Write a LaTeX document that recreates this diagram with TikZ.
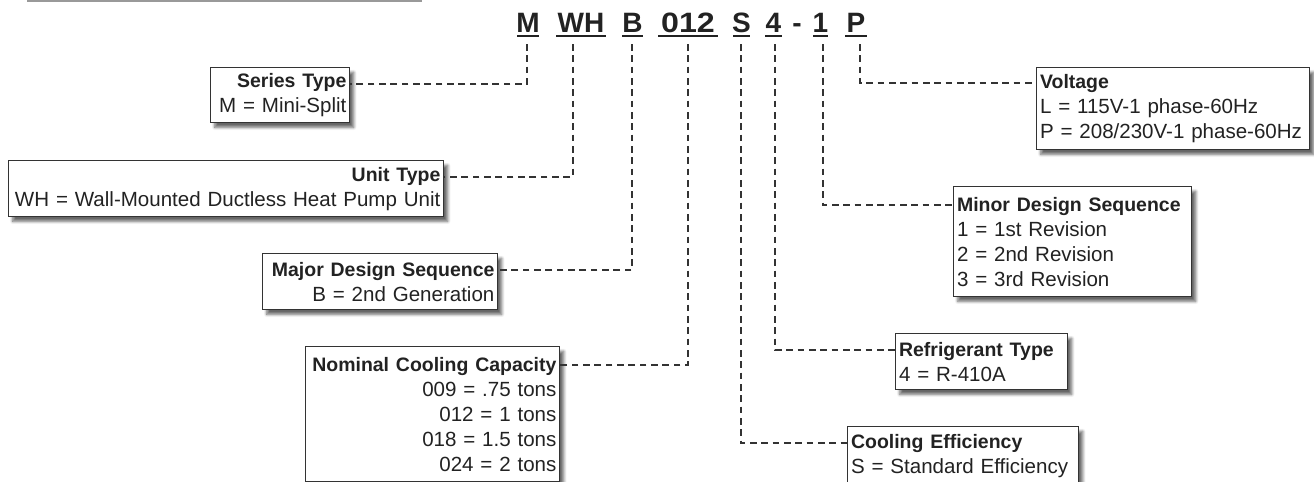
\documentclass[tikz,border=0pt]{standalone}
\usepackage{fontspec}
\setmainfont{Liberation Sans}
\usetikzlibrary{shadows.blur}
\definecolor{ink}{HTML}{222222}
\definecolor{linec}{HTML}{333333}
\newcommand{\ttl}[1]{{\fontsize{14.6pt}{18.75pt}\selectfont\bfseries #1}}
\begin{document}
\begin{tikzpicture}[x=0.75pt,y=-0.75pt,
  box/.style={draw=linec, line width=1.1pt, fill=white, anchor=north west, inner sep=2.5pt,
    font=\fontsize{15.4pt}{18.75pt}\selectfont, text=ink,
    blur shadow={shadow xshift=3pt, shadow yshift=-3.5pt, shadow blur steps=6, shadow opacity=60}},
  conn/.style={draw=linec, line width=1.5pt, dash pattern=on 5pt off 3.5pt},
  code/.style={font=\fontsize{21pt}{24pt}\bfseries\selectfont, text=ink, anchor=base, inner sep=0pt},
  ul/.style={draw=ink, line width=1.9pt}]
\useasboundingbox (0,0) rectangle (1314,482);
\draw[gray!80, line width=1.2pt] (27,0.8) -- (422,0.8);

% code
\node[code] (M) at (528,32) {M};
\node[code] (WH) at (581,32) {WH};
\node[code] (B) at (632.5,32) {B};
\node[code] (C012) at (688,32) {\scalebox{1.15}[1]{012}};
\node[code] (S) at (741.5,32) {S};
\node[code] (F) at (773.5,32) {4};
\node[code] (D) at (797,32) {-};
\node[code] (O) at (820.5,32) {1};
\node[code] (P) at (856,32) {P};
\draw[ul] (517,36) -- (539,36);
\draw[ul] (556,36) -- (606,36);
\draw[ul] (622,36) -- (643,36);
\draw[ul] (658,36) -- (718,36);
\draw[ul] (733,36) -- (750,36);
\draw[ul] (765,36) -- (782,36);
\draw[ul] (813,36) -- (828,36);
\draw[ul] (845,36) -- (867,36);

\coordinate (tM) at (527,44);
\coordinate (tWH) at (573,44);
\coordinate (tB) at (632,44);
\coordinate (t012) at (688,44);
\coordinate (tS) at (741,44);
\coordinate (t4) at (775,44);
\coordinate (t1) at (823,44);
\coordinate (tP) at (860,44);

% boxes
\node[box, minimum width=104.25pt, minimum height=41.25pt, text width=99.25pt, align=right] (series) at (210,67)
  {\ttl{Series Type}\\M = Mini-Split};
\node[box, minimum width=326.25pt, minimum height=42pt, text width=321.25pt, align=right] (unit) at (8,160)
  {\ttl{Unit Type}\\WH = Wall-Mounted Ductless Heat Pump Unit};
\node[box, minimum width=176.25pt, minimum height=42pt, text width=171.25pt, align=right] (major) at (262,253)
  {\ttl{Major Design Sequence}\\B = 2nd Generation};
\node[box, minimum width=190.5pt, minimum height=101.25pt, text width=185.5pt, align=right] (nominal) at (305,346)
  {\ttl{Nominal Cooling Capacity}\\009 = .75 tons\\012 = 1 tons\\018 = 1.5 tons\\024 = 2 tons};
\node[box, minimum width=204.75pt, minimum height=61.5pt, text width=199.75pt, align=left] (voltage) at (1036,67)
  {\ttl{Voltage}\\L = 115V-1 phase-60Hz\\P = 208/230V-1 phase-60Hz};
\node[box, minimum width=178.5pt, minimum height=82.5pt, text width=173.5pt, align=left] (minor) at (953,186)
  {\ttl{Minor Design Sequence}\\1 = 1st Revision\\2 = 2nd Revision\\3 = 3rd Revision};
\node[box, minimum width=129pt, minimum height=42pt, text width=124pt, align=left] (refrig) at (895,333)
  {\ttl{Refrigerant Type}\\4 = R-410A};
\node[box, minimum width=173.25pt, minimum height=43.5pt, text width=168.25pt, align=left] (cooling) at (847,426)
  {\ttl{Cooling Efficiency}\\S = Standard Efficiency};

% connectors
\draw[conn] (tM) |- ([yshift=-12.75pt]series.north east);
\draw[conn] (tWH) |- ([yshift=-12.75pt]unit.north east);
\draw[conn] (tB) |- ([yshift=-12.75pt]major.north east);
\draw[conn] (t012) |- ([yshift=-14.25pt]nominal.north east);
\draw[conn] (tS) |- ([yshift=-12.75pt]cooling.north west);
\draw[conn] (t4) |- ([yshift=-12.75pt]refrig.north west);
\draw[conn] (t1) |- ([yshift=-14.25pt]minor.north west);
\draw[conn] (tP) |- ([yshift=-12pt]voltage.north west);
\end{tikzpicture}
\end{document}
